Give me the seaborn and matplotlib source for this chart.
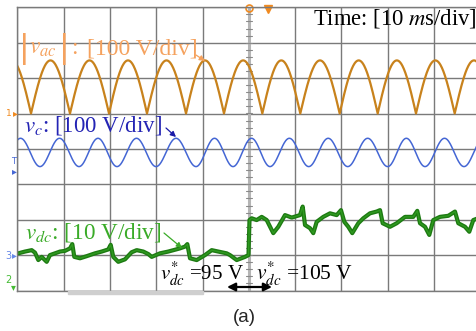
import numpy as np
import matplotlib.pyplot as plt
import matplotlib.patches as mpatches
import seaborn as sns
import pandas as pd

# scope screen: 10 ms/div horizontally (10 div), 8 div vertically
t_span_ms = [0, 100]
n_div_y = 8

# |v_ac| : zero crossings (ms), peak value (V), 100 V/div
vac_zeros_ms = [-5.40, 2.96, 11.38, 19.81, 28.01, 36.44, 44.64, 52.92,
                61.12, 69.63, 77.84, 86.11, 94.47, 102.80]
vac_peak_v = 150
# v_c : troughs (ms), amplitude (V), 100 V/div
vc_troughs_ms = [-3.50, 4.90, 13.33, 21.53, 29.96, 38.60, 46.59, 54.58,
                 62.94, 71.36, 80.00, 88.06, 96.48, 104.90]
vc_amp_v = 40
# v_dc : trace, 10 V/div (reference 95 V -> 105 V)
vdc_t_ms = [0.22, 1.66, 3.11, 3.82, 4.54, 5.27, 6.35, 7.06, 8.14, 9.22, 10.30,
            11.38, 11.88, 12.31, 13.54, 14.99, 16.78, 18.23, 19.65, 20.17, 20.73,
            21.81, 23.26, 24.69, 25.79, 27.21, 28.29, 29.03, 30.82, 32.61, 35.14,
            36.22, 36.72, 37.30, 38.75, 40.54, 41.99, 43.41, 45.22, 45.94, 47.39,
            49.18, 49.93, 50.15, 50.62, 51.70, 52.79, 53.87, 55.29, 56.37, 57.82,
            59.27, 61.06, 61.64, 62.14, 63.22, 63.93, 64.66, 66.09, 67.54, 68.98,
            69.91, 70.63, 71.49, 72.35, 73.65, 74.73, 76.17, 77.62, 78.34, 78.92,
            80.50, 81.94, 83.74, 85.53, 86.39, 86.98, 88.06, 88.98, 89.85, 91.29,
            93.09, 94.53, 95.25, 96.70, 97.62, 98.49, 99.50]
vdc_v = [95.5, 96.0, 96.4, 95.7, 93.6, 94.5, 93.1, 95.0, 95.5, 96.0, 96.2,
         96.9, 98.1, 94.5, 94.1, 94.7, 95.5, 96.0, 96.6, 97.9, 94.5,
         93.1, 93.8, 95.8, 96.4, 96.0, 95.3, 94.5, 95.5, 96.0, 96.9,
         97.4, 98.1, 94.1, 93.6, 95.0, 96.4, 96.0, 95.5, 95.0, 93.6,
         94.5, 95.0, 104.9, 105.4, 104.9, 105.8, 104.9, 101.2, 103.0, 106.3,
         105.6, 106.3, 108.7, 103.5, 102.6, 101.2, 104.4, 105.8, 106.8, 106.3,
         107.7, 104.4, 103.0, 101.2, 104.0, 105.4, 106.8, 107.3, 107.7, 104.0,
         103.0, 104.0, 105.8, 105.8, 107.5, 104.0, 103.0, 100.7, 104.9, 105.8,
         106.1, 107.3, 104.0, 103.0, 101.6, 104.9, 105.4]

# channel scale (V/div) and screen offset of 0 V (div)
ch_vac = (100, 5.0)
ch_vc = (100, 3.9)
ch_vdc = (10, -8.5)


def rectified(zeros, peak, n=80):
    t, v = [], []
    for a, b in zip(zeros[:-1], zeros[1:]):
        s = np.linspace(a, b, n)
        t.extend(s)
        v.extend(peak * np.sin(np.pi * (s - a) / (b - a)))
    return np.array(t), np.array(v)


def sine_from_troughs(troughs, amp, n=80):
    t, v = [], []
    for a, b in zip(troughs[:-1], troughs[1:]):
        s = np.linspace(a, b, n)
        t.extend(s)
        v.extend(-amp * np.cos(2 * np.pi * (s - a) / (b - a)))
    return np.array(t), np.array(v)


def on_screen(v, ch):
    return np.asarray(v) / ch[0] + ch[1]


W, H = 476, 331


def fx(x):
    return x / W


def fy(y):
    return 1 - y / H


sns.set_theme(style="white")
plt.rcParams["font.family"] = ["Liberation Serif", "DejaVu Serif"]
plt.rcParams["mathtext.fontset"] = "stix"

fig = plt.figure(figsize=(W / 100, H / 100), dpi=100)
ax = fig.add_axes([fx(17.3), fy(290.5), 463 / W, 283.2 / H])

t1, v1 = rectified(vac_zeros_ms, vac_peak_v)
t2, v2 = sine_from_troughs(vc_troughs_ms, vc_amp_v)
df_vac = pd.DataFrame({"t": t1, "y": on_screen(v1, ch_vac)})
df_vc = pd.DataFrame({"t": t2, "y": on_screen(v2, ch_vc)})
df_vdc = pd.DataFrame({"t": vdc_t_ms, "y": on_screen(vdc_v, ch_vdc)})

# grid
ax.set_xlim(*t_span_ms)
ax.set_ylim(0, n_div_y)
ax.set_xticks(np.arange(0, 101, 10))
ax.set_yticks(np.arange(0, n_div_y + 1))
ax.grid(True, color="#7a7a7a", lw=1.0)
ax.tick_params(length=0, labelbottom=False, labelleft=False)
for side in ["top", "left", "bottom", "right"]:
    ax.spines[side].set_color("#7a7a7a")
    ax.spines[side].set_linewidth(1.0)
ax.set_axisbelow(True)
ax.axvline(50, color="#b5b5b5", lw=2.2, zorder=1)
for yy in np.arange(0.2, n_div_y, 0.2):
    ax.plot([49.4, 50.6], [yy, yy], color="#8a8a8a", lw=0.8, zorder=1)

# traces
sns.lineplot(data=df_vac, x="t", y="y", ax=ax, color="#c8821c", lw=1.6,
             estimator=None, sort=False)
sns.lineplot(data=df_vc, x="t", y="y", ax=ax, color="#4466d4", lw=1.1,
             estimator=None, sort=False)
sns.lineplot(data=df_vdc, x="t", y="y", ax=ax, color="#1d7a12", lw=3.0,
             estimator=None, sort=False)
sns.lineplot(data=df_vdc, x="t", y="y", ax=ax, color="#2f9a20", lw=1.0,
             estimator=None, sort=False)
ax.set_xlabel("")
ax.set_ylabel("")

# trigger markers on top edge
ax.plot([50], [n_div_y - 0.02], marker="o", ms=5, mfc="none", mec="#f08a20",
        mew=1.2, clip_on=False)
ax.plot([54.1], [n_div_y - 0.05], marker="v", ms=6, color="#f08a20", clip_on=False)

# labels
vac_col = "#f5a25e"
fig.text(fx(19), fy(57), "|", color=vac_col, fontsize=23, va="baseline",
         family=["DejaVu Sans"])
fig.text(fx(29), fy(54), r"$v_{ac}$", color=vac_col, fontsize=17, va="baseline")
fig.text(fx(59), fy(57), "|", color=vac_col, fontsize=23, va="baseline",
         family=["DejaVu Sans"])
fig.text(fx(71), fy(54), ":", color=vac_col, fontsize=17, va="baseline")
fig.text(fx(87), fy(54), "[100 V/div]", color=vac_col, fontsize=17,
         va="baseline")
fig.text(fx(24), fy(131.5), r"$v_c$: [100 V/div]", color="#2424b4",
         fontsize=16.5, va="baseline")
fig.text(fx(313), fy(25), r"Time: [10 $m$s/div]", color="black",
         fontsize=16.3, va="baseline")
fig.text(fx(25), fy(238.5), r"$v_{dc}$: [10 V/div]", color="#3aab28",
         fontsize=16.7, va="baseline")
fig.text(fx(160), fy(280), r"$v^{*}_{dc}$ =95 V", color="black",
         fontsize=15, va="baseline")
fig.text(fx(256), fy(280), r"$v^{*}_{dc}$ =105 V", color="black",
         fontsize=15.5, va="baseline")
fig.text(fx(244), fy(317), "(a)", family=["Liberation Sans", "DejaVu Sans"],
         fontsize=13.5, ha="center", va="center")

# arrows (figure pixels, origin bottom-left)
def arrow(p0, p1, color, style="-|>", lw=0.9, ms=8):
    ax.annotate("", xy=(p1[0], H - p1[1]), xytext=(p0[0], H - p0[1]),
                xycoords="figure pixels", textcoords="figure pixels",
                arrowprops=dict(arrowstyle=style, color=color, lw=lw,
                                mutation_scale=ms, shrinkA=0, shrinkB=0))


arrow((196, 55), (205, 61), vac_col)
arrow((166, 128), (176, 137), "#1a1aa8")
arrow((164, 233), (182, 248), "#3aab28")
arrow((227, 287), (272, 287), "black", style="<|-|>", lw=1.6, ms=12)

# channel markers on the left
fig.text(fx(6), fy(116), "1", color="#f08a20", fontsize=6.5,
         family=["DejaVu Sans"])
fig.text(fx(13), fy(113), "\u25b8", color="#f08a20", fontsize=7,
         family=["DejaVu Sans"], va="center")
fig.text(fx(11), fy(164), "T", color="#4466d4", fontsize=6,
         family=["DejaVu Sans"])
fig.text(fx(12), fy(171), "\u25b8", color="#4466d4", fontsize=7,
         family=["DejaVu Sans"], va="center")
fig.text(fx(5), fy(259), "3", color="#6688e8", fontsize=7,
         family=["DejaVu Sans"])
fig.text(fx(12), fy(255), "\u25b8", color="#6688e8", fontsize=7,
         family=["DejaVu Sans"], va="center")
fig.text(fx(5), fy(283), "2", color="#44bb33", fontsize=7,
         family=["DejaVu Sans"])
fig.text(fx(11), fy(287), "\u25be", color="#44bb33", fontsize=7,
         family=["DejaVu Sans"], va="center")

# scroll bar under the screen
fig.patches.append(mpatches.Rectangle((fx(68), fy(294)), 135 / W, 3 / H,
                                      transform=fig.transFigure,
                                      color="#cfcfcf", zorder=0))

fig.savefig("out.png", dpi=100)
